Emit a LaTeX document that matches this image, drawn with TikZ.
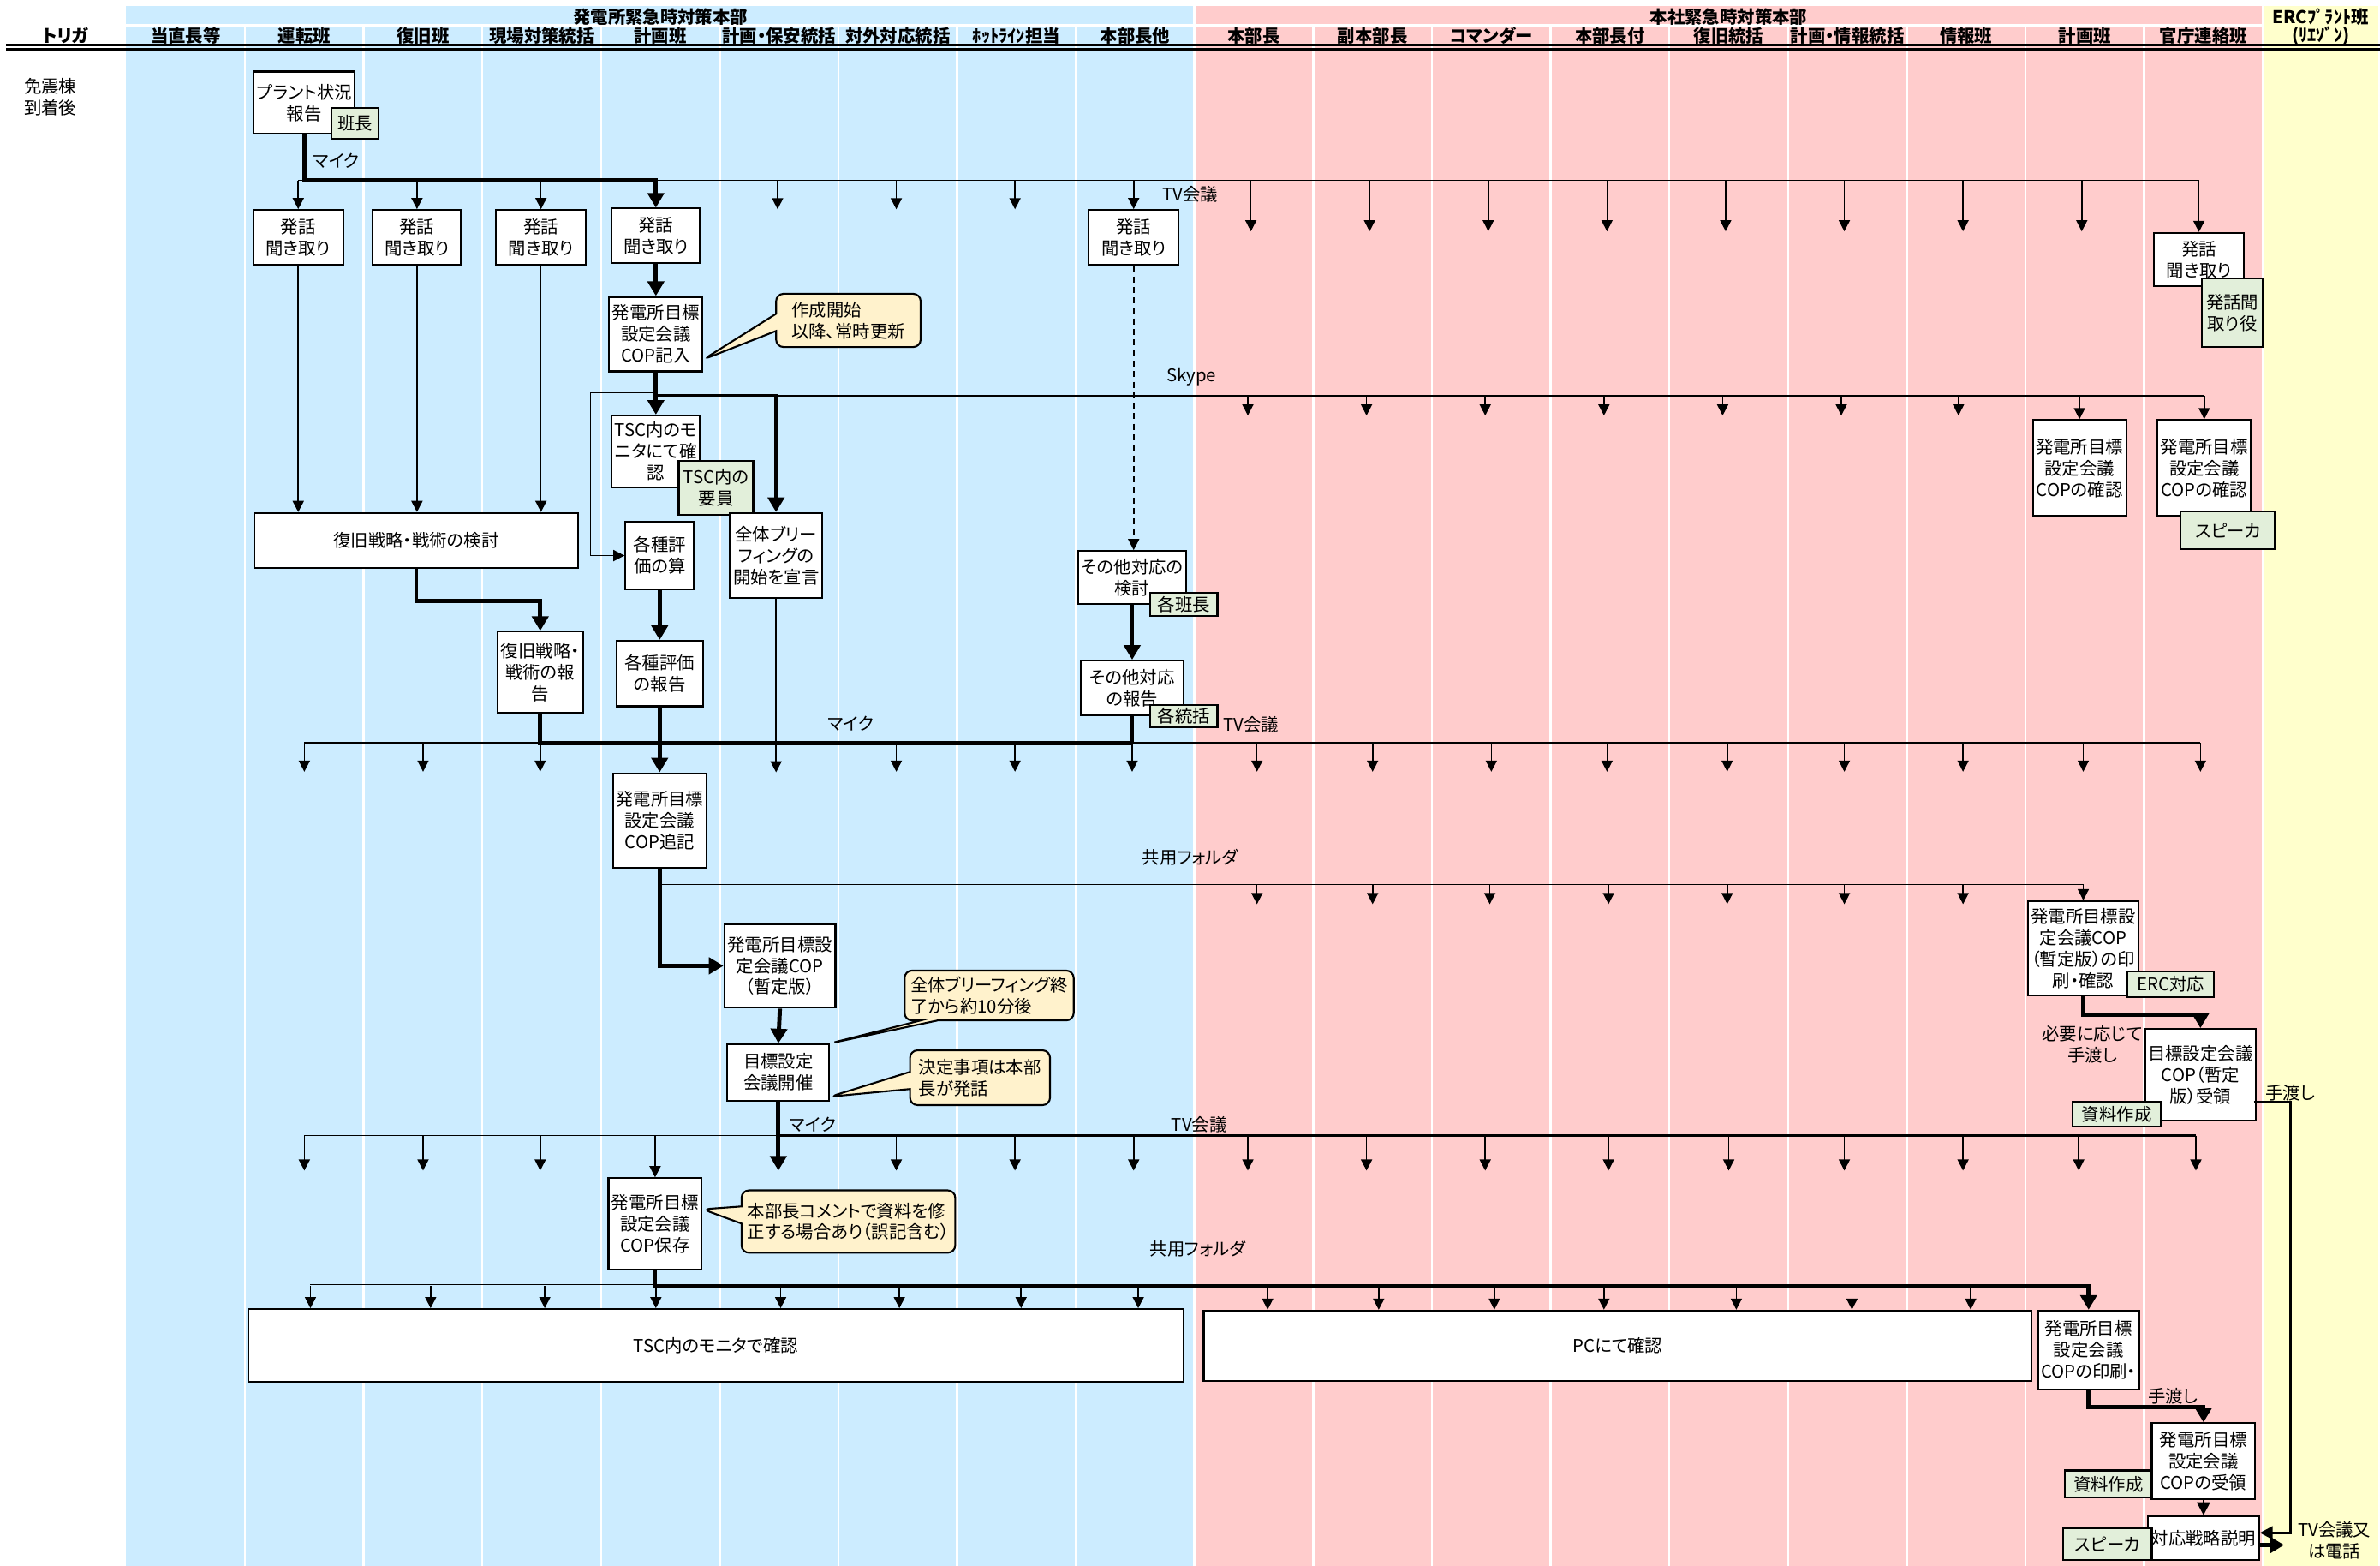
\documentclass[tikz,border=0pt]{standalone}
\usepackage{fontspec}
\setmainfont{Noto Sans CJK JP}[RawFeature=+palt]
\usetikzlibrary{arrows.meta,shapes.callouts}
\definecolor{tscblue}{RGB}{204,236,255}
\definecolor{hqpink}{RGB}{255,204,204}
\definecolor{ercyellow}{RGB}{255,255,204}
\definecolor{rolegreen}{RGB}{226,239,218}
\definecolor{noteyellow}{RGB}{255,242,204}
\tikzset{
  box/.style={draw,fill=white,line width=0.6pt,align=center,inner sep=1pt},
  role/.style={draw,fill=rolegreen,line width=0.6pt,align=center,inner sep=1pt},
  note/.style={rectangle callout,draw,fill=noteyellow,line width=0.6pt,rounded corners=2.5pt,align=left,inner sep=2pt,callout pointer width=2mm},
  head/.style={font=\fontsize{5.8}{6.2}\selectfont\bfseries},
  sz/.style 2 args={minimum width=#1*0.1777mm,minimum height=#2*0.1777mm},
  wire/.style={line width=0.45pt},
  midwire/.style={line width=0.8pt},
  bus/.style={line width=1.4pt},
  wireto/.style={wire,-{Triangle[length=1.3mm,width=1.3mm]}},
  midto/.style={midwire,-{Triangle[length=1.5mm,width=1.5mm]}},
  busto/.style={bus,-{Triangle[length=1.7mm,width=1.9mm]}}
}
\begin{document}
\begin{tikzpicture}[x=0.1777mm,y=-0.1777mm,font=\fontsize{5.8}{7.1}\selectfont]
\useasboundingbox (0,0) rectangle (1564,1028.7);
% lanes
\fill[tscblue] (83,3.7) rectangle (785,1029);
\fill[hqpink] (785,3.7) rectangle (1487,1029);
\fill[ercyellow] (1487,3.7) rectangle (1563,1029);
\foreach \i in {1,...,17}
  \draw[white,line width=0.7pt] ({83+78*\i},16.5) -- ({83+78*\i},1029);
\draw[white,line width=0.9pt] (785,3.7) -- (785,1029);
\draw[white,line width=0.9pt] (1487,3.7) -- (1487,1029);
\draw[white,line width=1pt] (83,17) -- (1487,17);
\draw[line width=0.95pt] (4,29.5) -- (1564,29.5);
\draw[line width=1.15pt] (4,32.6) -- (1564,32.6);

% header
\node[head] (trigger) at (43,23.5) {トリガ};
\node[head] (plant) at (434,11) {発電所緊急時対策本部};
\node[head] (office) at (1136,11) {本社緊急時対策本部};
\node[head] (ercA) at (1525,11) {ERCﾌﾟﾗﾝﾄ班};
\node[head] (ercB) at (1525,23.5) {(ﾘｴｿﾞﾝ)};
\foreach \lbl [count=\i from 0] in {当直長等,運転班,復旧班,現場対策統括,計画班,計画・保安統括,対外対応統括,ﾎｯﾄﾗｲﾝ担当,本部長他,本部長,副本部長,コマンダー,本部長付,復旧統括,計画・情報統括,情報班,計画班,官庁連絡班}
  \node[head] (col\i) at ({122+78*\i},23.5) {\lbl};
\node[align=center] (arrival) at (33,63.5) {免震棟\\到着後};

% boxes
\node[box,sz={62}{41}] (report) at (200,67.5) {プラント状況\\報告};
\node[role,sz={31}{20}] (hancho) at (233.5,81) {班長};
\node[box,sz={59}{36}] (hear1) at (196,156) {発話\\聞き取り};
\node[box,sz={58}{36}] (hear2) at (274,156) {発話\\聞き取り};
\node[box,sz={59}{36}] (hear3) at (355.5,156) {発話\\聞き取り};
\node[box,sz={58}{36}] (hear4) at (431,155) {発話\\聞き取り};
\node[box,sz={59}{36}] (hear5) at (745,156) {発話\\聞き取り};
\node[box,sz={59}{35}] (hear6) at (1445,170.5) {発話\\聞き取り};
\node[role,sz={40}{45}] (hearer) at (1467,205.5) {発話聞\\取り役};
\node[box,sz={58}{49}] (cop1) at (431,219.5) {発電所目標\\設定会議\\COP記入};
\node[note,sz={95}{35},callout absolute pointer={(cop1.-28)}] (note1) at (557.5,210.5) {作成開始\\以降、常時更新};
\node[box,sz={56}{47}] (tsc1) at (431,296.5) {TSC内のモ\\ニタにて確\\認};
\node[role,sz={49}{35}] (tscstaff) at (470.5,320.5) {TSC内の\\要員};
\node[box,sz={58}{56}] (brief) at (510,365) {全体ブリー\\フィングの\\開始を宣言};
\node[box,sz={45}{44}] (eval) at (433.5,365) {各種評\\価の算};
\node[box,sz={57}{43}] (evalrep) at (433.5,442.5) {各種評価\\の報告};
\node[box,sz={213}{36}] (strat) at (273.5,355) {復旧戦略・戦術の検討};
\node[box,sz={56}{53}] (stratrep) at (355,441.5) {復旧戦略・\\戦術の報\\告};
\node[box,sz={68}{35}] (other) at (744,379.5) {その他対応の\\検討};
\node[role,sz={44}{15}] (leaders) at (778,397) {各班長};
\node[box,sz={68}{36}] (otherrep) at (744,452) {その他対応\\の報告};
\node[role,sz={44}{15}] (chiefs) at (778,470.5) {各統括};
\node[box,sz={59}{63}] (check1) at (1366.5,307.5) {発電所目標\\設定会議\\COPの確認};
\node[box,sz={59}{63}] (check2) at (1448.5,307.5) {発電所目標\\設定会議\\COPの確認};
\node[role,sz={62}{25}] (speaker1) at (1464,348.5) {スピーカ};
\node[box,sz={59}{62}] (cop2) at (433.5,539) {発電所目標\\設定会議\\COP追記};
\node[box,sz={73}{55}] (draft) at (512.5,634.5) {発電所目標設\\定会議COP\\（暫定版）};
\node[box,sz={67}{37}] (meeting) at (511.5,704.5) {目標設定\\会議開催};
\node[note,sz={110}{32},callout absolute pointer={(meeting.north east)}] (note2) at (650,654) {全体ブリーフィング終\\了から約10分後};
\node[note,sz={92}{36},callout absolute pointer={(meeting.-25)}] (note3) at (644,708) {決定事項は本部\\長が発話};
\node[box,sz={72}{62}] (print1) at (1369,623) {発電所目標設\\定会議COP\\（暫定版）の印\\刷・確認};
\node[role,sz={57}{17}] (erc) at (1426.5,646.5) {ERC対応};
\node[box,sz={70}{60}] (recv1) at (1446,706) {目標設定会議\\COP（暫定\\版）受領};
\node[role,sz={58}{16}] (docs1) at (1391,732) {資料作成};
\node[box,sz={59}{60}] (cop3) at (430.5,804) {発電所目標\\設定会議\\COP保存};
\node[note,sz={137}{41},callout absolute pointer={(cop3.17)}] (note4) at (557.5,802.5) {本部長コメントで資料を修\\正する場合あり（誤記含む）};
\node[box,sz={615}{48}] (tscmon) at (470.5,884) {TSC内のモニタで確認};
\node[box,sz={544}{46}] (pc) at (1063,884) {PCにて確認};
\node[box,sz={65}{52}] (print2) at (1372.5,887) {発電所目標\\設定会議\\COPの印刷・};
\node[box,sz={68}{50}] (recv2) at (1448,960) {発電所目標\\設定会議\\COPの受領};
\node[role,sz={57}{18}] (docs2) at (1385.5,975) {資料作成};
\node[box,sz={68}{29}] (explain) at (1448,1010.5) {対応戦略説明};
\node[role,sz={58}{21}] (speaker2) at (1385,1014.5) {スピーカ};

% line labels
\node (mic1) at (221,105.5) {マイク};
\node (tvl1) at (782,127.5) {TV会議};
\node (skl1) at (783,247.5) {Skype};
\node (mic2) at (559,475.5) {マイク};
\node (tvl2) at (822,476) {TV会議};
\node (fol1) at (782,563) {共用フォルダ};
\node (mic3) at (534,739) {マイク};
\node (tvl3) at (788,739) {TV会議};
\node (fol2) at (787,820.5) {共用フォルダ};
\node[align=center] (asneed) at (1375,686) {必要に応じて\\手渡し};
\node (hand1) at (1505,718) {手渡し};
\node (hand2) at (1428,917) {手渡し};
\node[align=center] (tvphone) at (1534,1012) {TV会議又\\は電話};

% TV conference 1
\coordinate (tv1) at (0,118.5);
\draw[wire] (hear1.north |- tv1) -- (hear6.north |- tv1);
\draw[busto] (report.south) |- (hear4.north |- tv1) -- (hear4.north);
\foreach \nd in {hear1,hear2,hear3,hear5,hear6}
  \draw[wireto] (\nd.north |- tv1) -- (\nd.north);
\foreach \x in {511,589,667} {
  \coordinate (tip) at (\x,137.5);
  \draw[wireto] (tip |- tv1) -- (tip);
}
\foreach \x in {822,900,978,1056,1134,1212,1290,1368} {
  \coordinate (tip) at (\x,152);
  \draw[wireto] (tip |- tv1) -- (tip);
}

% Skype
\coordinate (sk) at (0,260);
\coordinate (skl) at (388,258);
\draw[midwire] (brief.north |- sk) -- (check2.north |- sk);
\draw[busto] (cop1.south) -- (tsc1.north);
\draw[busto] (cop1.south |- sk) -| (brief.north);
\draw[wireto] (cop1.south |- skl) -- (skl) |- (eval.west);
\foreach \nd in {check1,check2}
  \draw[wireto] (\nd.north |- sk) -- (\nd.north);
\foreach \x in {820,898,976,1054,1132,1210,1287} {
  \coordinate (tip) at (\x,273);
  \draw[wireto] (tip |- sk) -- (tip);
}
\draw[busto] (hear4.south) -- (cop1.north);
\foreach \nd in {hear1,hear2,hear3}
  \draw[wireto] (\nd.south) -- (\nd.south |- strat.north);
\draw[wireto,dash pattern=on 2pt off 1.5pt] (hear5.south) -- (hear5.south |- other.north);
\draw[busto] (strat.south) -- ++(0,21) -| (stratrep.north);
\draw[busto] (eval.south) -- (evalrep.north);
\draw[busto] (other.south) -- (otherrep.north);

% TV conference 2
\coordinate (tv2) at (0,488);
\coordinate (tv2w) at (200,488);
\coordinate (tv2e) at (1446,488);
\draw[wire] (tv2w) -- (tv2e);
\draw[bus] (stratrep.south) |- (otherrep.south |- tv2);
\draw[bus] (otherrep.south) -- (otherrep.south |- tv2);
\draw[busto] (evalrep.south) -- (cop2.north);
\draw[wireto] (brief.south) -- (brief.south |- cop2.north);
\foreach \x in {200,278,355,589,667,744,826,902,980,1056,1135,1212,1290,1369,1446} {
  \coordinate (tip) at (\x,507);
  \draw[wireto] (tip |- tv2) -- (tip);
}

% shared folder 1
\coordinate (sh1) at (0,581);
\draw[busto] (cop2.south) |- (draft.west);
\draw[wire] (cop2.south |- sh1) -- (print1.north |- sh1);
\draw[wireto] (print1.north |- sh1) -- (print1.north);
\foreach \x in {826,902,979,1057,1135,1212,1290} {
  \coordinate (tip) at (\x,594);
  \draw[wireto] (tip |- sh1) -- (tip);
}
\draw[busto] (draft.south) -- (meeting.north);
\draw[busto] (print1.south) -- ++(0,12) -| (recv1.north);

% TV conference 3
\coordinate (tv3) at (0,746);
\coordinate (tv3w) at (200,746);
\coordinate (tv3e) at (1443,746);
\coordinate (meetdown) at (511.5,769);
\draw[wire] (tv3w) -- (meeting.south |- tv3);
\draw[midwire] (meeting.south |- tv3) -- (tv3e);
\draw[busto] (meeting.south) -- (meetdown);
\draw[wireto] (cop3.north |- tv3) -- (cop3.north);
\foreach \x in {200,278,355,589,667,745,820,898,976,1057,1136,1212,1290,1366,1443} {
  \coordinate (tip) at (\x,769);
  \draw[wireto] (tip |- tv3) -- (tip);
}

% shared folder 2
\coordinate (sh2) at (0,845);
\coordinate (sh2w) at (204,844);
\draw[wire] (sh2w) -- (sh2w -| cop3.south);
\draw[busto] (cop3.south) |- (print2.north |- sh2) -- (print2.north);
\foreach \x in {204,283,358,431,513,591,671,748} {
  \coordinate (tip) at (\x,845);
  \draw[wireto] (tip) -- (tip |- tscmon.north);
}
\foreach \x in {833,906,982,1054,1141,1217,1295} {
  \coordinate (tip) at (\x,845);
  \draw[wireto] (tip) -- (tip |- pc.north);
}
\draw[busto] (print2.south) -- ++(0,11) -| (recv2.north);
\draw[midto] (recv2.south) -- (explain.north);

% ERC liaison
\coordinate (hand) at (1481,724);
\coordinate (ercv) at (1505,1007);
\coordinate (ercout) at (1501,1015);
\draw[midto] (hand) -| (ercv) -- (ercv -| explain.east);
\draw[busto] (ercout -| explain.east) -- (ercout);
\end{tikzpicture}
\end{document}
